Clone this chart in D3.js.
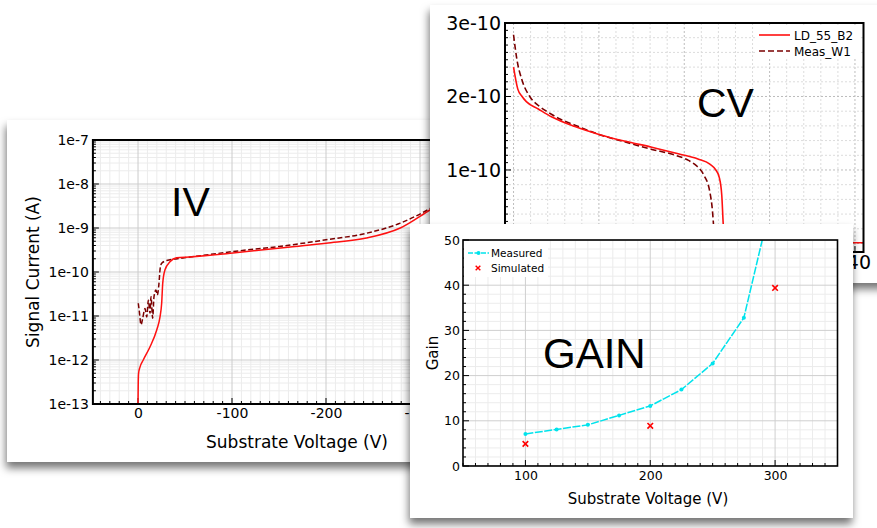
<!DOCTYPE html>
<html>
<head>
<meta charset="utf-8">
<script src="https://cdn.jsdelivr.net/npm/d3@7"></script>
<style>
  body { margin: 0; background: #fff; }
  svg { display: block; }
  text { font-family: "DejaVu Sans", sans-serif; fill: #000; }
  .big { font-family: "Liberation Sans", Arial, sans-serif; }
</style>
</head>
<body>
<svg id="chart" width="877" height="528"></svg>
<script>
// ---------- IV: signal current vs substrate voltage ----------
const ivSimVoltage = [0, -0.2, -0.6, -2.1, -5.6, -12.8, -19.9, -23.4, -25.2, -26.3, -28.7, -34, -41, -55, -101, -162, -200, -243, -279, -311, -330, -350];
const ivSimCurrent = [1e-13, 2.5e-13, 5.0e-13, 6.9e-13, 1.0e-12, 2.0e-12, 4.8e-12, 9.5e-12, 2.0e-11, 5.6e-11, 1.12e-10, 1.7e-10, 2.1e-10, 2.2e-10, 2.7e-10, 3.7e-10, 4.5e-10, 5.9e-10, 1.0e-9, 2.6e-9, 4.5e-9, 8e-9];
const ivMeasVoltage = [-0.3, -1.4, -3.2, -5.0, -7.4, -9.3, -11.0, -12.8, -13.8, -15.6, -17.0, -19.1, -20.5, -22.3, -23.4, -25.2, -30.5, -44.7, -70, -100, -150, -200, -243, -279, -311, -330, -350];
const ivMeasCurrent = [1.95e-11, 1.26e-11, 6.3e-12, 8.9e-12, 1.48e-11, 9.5e-12, 2.29e-11, 1.15e-11, 2.75e-11, 8.9e-12, 2.75e-11, 3.9e-11, 3.0e-11, 5.5e-11, 1.12e-10, 1.58e-10, 1.82e-10, 2.04e-10, 2.4e-10, 2.9e-10, 3.8e-10, 5.4e-10, 7.6e-10, 1.29e-9, 2.8e-9, 5e-9, 9e-9];
const ivYTicks = [1e-7, 1e-8, 1e-9, 1e-10, 1e-11, 1e-12, 1e-13];
const ivYTickLabels = ["1e-7", "1e-8", "1e-9", "1e-10", "1e-11", "1e-12", "1e-13"];
const ivXTicks = [0, -100, -200, -300];

// ---------- CV: capacitance vs voltage ----------
const cvSimVoltage = [0, -0.5, -1.0, -1.5, -2.9, -4.5, -7.2, -10.1, -13.1, -16.2, -19.3, -21.6, -23.0, -23.7, -24.1, -24.4, -24.55, -24.7, -25.5, -41];
const cvSimCap = [2.40e-10, 2.10e-10, 2.00e-10, 1.93e-10, 1.83e-10, 1.72e-10, 1.59e-10, 1.48e-10, 1.39e-10, 1.31e-10, 1.22e-10, 1.15e-10, 1.08e-10, 1.00e-10, 0.90e-10, 0.65e-10, 0.30e-10, 0.03e-10, 0.01e-10, 0.01e-10];
const cvMeasVoltage = [0, -0.4, -1.0, -1.9, -3.0, -4.0, -5.5, -7.2, -10.1, -13.1, -16.2, -18.7, -20.5, -21.5, -22.3, -23.0, -23.3, -23.45, -23.6];
const cvMeasCap = [2.84e-10, 2.50e-10, 2.22e-10, 2.00e-10, 1.87e-10, 1.79e-10, 1.69e-10, 1.61e-10, 1.48e-10, 1.38e-10, 1.28e-10, 1.21e-10, 1.13e-10, 1.05e-10, 0.93e-10, 0.70e-10, 0.45e-10, 0.22e-10, 0.0];
const cvYTicks = [3e-10, 2e-10, 1e-10];
const cvYTickLabels = ["3e-10", "2e-10", "1e-10"];
const cvXTicks = [-40];
const cvSeriesNames = ["LD_55_B2", "Meas_W1"];

// ---------- GAIN vs substrate voltage ----------
const gainMeasVoltage = [100, 125, 150, 175, 200, 225, 250, 275, 300];
const gainMeasured = [7.1, 8.1, 9.1, 11.2, 13.3, 16.9, 22.7, 32.8, 62];
const gainSimVoltage = [100, 200, 300];
const gainSimulated = [4.9, 8.9, 39.4];
const gainYTicks = [0, 10, 20, 30, 40, 50];
const gainXTicks = [100, 200, 300];
const gainSeriesNames = ["Measured", "Simulated"];

const RED = "#ff1010", DARKRED = "#7a0000", CYAN = "#00e3ec";

const svg = d3.select("#chart");
const defs = svg.append("defs");
const shadow = defs.append("filter").attr("id", "cardShadow")
  .attr("x", "-10%").attr("y", "-10%").attr("width", "125%").attr("height", "130%");
shadow.append("feDropShadow").attr("dx", -1).attr("dy", 6).attr("stdDeviation", 4)
  .attr("flood-color", "#000").attr("flood-opacity", 0.55);

function clip(id, x0, y0, x1, y1) {
  defs.append("clipPath").attr("id", id).append("rect")
    .attr("x", x0).attr("y", y0).attr("width", x1 - x0).attr("height", y1 - y0);
  return `url(#${id})`;
}
function styleAxis(g, size) {
  g.attr("font-family", "DejaVu Sans, sans-serif").attr("font-size", size);
  g.select(".domain").remove();
  g.selectAll("text").attr("fill", "#000");
}
function hLine(g, y, x0, x1, stroke, w, dash) {
  g.append("line").attr("x1", x0).attr("x2", x1).attr("y1", y).attr("y2", y)
    .attr("stroke", stroke).attr("stroke-width", w).attr("stroke-dasharray", dash || null);
}
function vLine(g, x, y0, y1, stroke, w, dash) {
  g.append("line").attr("x1", x).attr("x2", x).attr("y1", y0).attr("y2", y1)
    .attr("stroke", stroke).attr("stroke-width", w).attr("stroke-dasharray", dash || null);
}

// ================= IV card =================
{
  const g = svg.append("g");
  g.append("rect").attr("x", 7).attr("y", 120).attr("width", 470).attr("height", 342)
    .attr("fill", "#fff").attr("filter", "url(#cardShadow)");
  const X0 = 92.9, X1 = 467, Y0 = 140, Y1 = 404;
  const x = d3.scaleLinear().domain([48, -350]).range([X0, X1]);
  const y = d3.scaleLog().domain([1e-13, 1e-7]).range([Y1, Y0]);
  const grid = g.append("g").attr("clip-path", clip("ivClip", X0, Y0, X1, Y1));
  // minor grid
  for (let v = 40; v >= -350; v -= 10) if (v % 100 !== 0) vLine(grid, x(v), Y0, Y1, "#ececec", 1);
  for (let e = -13; e < -7; e++) for (let k = 2; k <= 9; k++) hLine(grid, y(k * Math.pow(10, e)), X0, X1, "#ececec", 1);
  // major grid
  [0, -100, -200, -300].forEach(v => vLine(grid, x(v), Y0, Y1, "#cccccc", 1));
  ivYTicks.forEach(t => hLine(grid, y(t), X0, X1, "#cccccc", 1));
  // tick marks inside the frame
  for (let v = 40; v >= -350; v -= 10) vLine(g, x(v), Y1, Y1 - (v % 100 === 0 ? 6 : 3), "#000", 1);
  for (let e = -13; e < -7; e++) for (let k = 1; k <= 9; k++) hLine(g, y(k * Math.pow(10, e)), X0, X0 + (k === 1 ? 6 : 3), "#000", 1);

  const line = d3.line().x(d => x(d[0])).y(d => y(d[1])).curve(d3.curveMonotoneX);
  const lines = g.append("g").attr("clip-path", "url(#ivClip)");
  lines.append("path").datum(d3.zip(ivMeasVoltage, ivMeasCurrent)).attr("d", line)
    .attr("fill", "none").attr("stroke", DARKRED).attr("stroke-width", 1.5).attr("stroke-dasharray", "5,2.5");
  lines.append("path").datum(d3.zip(ivSimVoltage, ivSimCurrent)).attr("d", line)
    .attr("fill", "none").attr("stroke", RED).attr("stroke-width", 1.5);

  // frame
  hLine(g, Y0, X0, X1, "#000", 2); hLine(g, Y1, X0, X1, "#000", 2); vLine(g, X0, Y0 - 1, Y1 + 1, "#000", 2);

  g.append("g").attr("transform", `translate(0,${Y1})`)
    .call(d3.axisBottom(x).tickValues(ivXTicks).tickSize(0).tickPadding(4).tickFormat(d => d))
    .call(a => styleAxis(a, 14));
  g.append("g").attr("transform", `translate(${X0},0)`)
    .call(d3.axisLeft(y).tickValues(ivYTicks).tickSize(0).tickPadding(4).tickFormat((d, i) => ivYTickLabels[i]))
    .call(a => styleAxis(a, 14));

  g.append("text").attr("transform", "rotate(-90)").attr("x", -272).attr("y", 39)
    .attr("text-anchor", "middle").attr("font-size", 17).text("Signal Current (A)");
  g.append("text").attr("x", 297).attr("y", 448).attr("text-anchor", "middle")
    .attr("font-size", 17).text("Substrate Voltage (V)");
  g.append("text").attr("class", "big").attr("x", 171).attr("y", 216).attr("font-size", 41).text("IV");
}

// ================= CV card =================
{
  const g = svg.append("g");
  g.append("rect").attr("x", 430).attr("y", 5).attr("width", 470).attr("height", 278)
    .attr("fill", "#fff").attr("filter", "url(#cardShadow)");
  const X0 = 505, X1 = 863.5, Y0 = 23, Y1 = 252;
  const x = d3.scaleLinear().domain([1, -41]).range([X0, X1]);
  const y = d3.scaleLinear().domain([-0.116e-10, 3e-10]).range([Y1, Y0]);
  const grid = g.append("g").attr("clip-path", clip("cvClip", X0, Y0, X1, Y1));
  for (let v = 0; v >= -41; v -= 2) vLine(grid, x(v), Y0, Y1, v % 10 === 0 ? "#bdbdbd" : "#dcdcdc", 1, "2,2");
  for (let k = 0; k <= 30; k += 2) hLine(grid, y(k * 1e-11), X0, X1, k % 10 === 0 ? "#bdbdbd" : "#dcdcdc", 1, "2,2");
  for (let k = 0; k <= 30; k++) hLine(g, y(k * 1e-11), X0, X0 + (k % 10 === 0 ? 6 : 3), "#000", 1);
  for (let v = 0; v >= -41; v -= 2) vLine(g, x(v), Y1, Y1 - (v % 10 === 0 ? 6 : 3), "#000", 1);

  const line = d3.line().x(d => x(d[0])).y(d => y(d[1])).curve(d3.curveMonotoneX);
  const lines = g.append("g").attr("clip-path", "url(#cvClip)");
  lines.append("path").datum(d3.zip(cvMeasVoltage, cvMeasCap)).attr("d", line)
    .attr("fill", "none").attr("stroke", DARKRED).attr("stroke-width", 1.6).attr("stroke-dasharray", "6,3");
  lines.append("path").datum(d3.zip(cvSimVoltage, cvSimCap)).attr("d", line)
    .attr("fill", "none").attr("stroke", RED).attr("stroke-width", 1.6);

  g.append("rect").attr("x", X0).attr("y", Y0).attr("width", X1 - X0).attr("height", Y1 - Y0)
    .attr("fill", "none").attr("stroke", "#000").attr("stroke-width", 2);

  g.append("g").attr("transform", `translate(0,${Y1})`)
    .call(d3.axisBottom(x).tickValues(cvXTicks).tickSize(0).tickPadding(3).tickFormat(d => d))
    .call(a => styleAxis(a, 19));
  g.append("g").attr("transform", `translate(${X0},0)`)
    .call(d3.axisLeft(y).tickValues(cvYTicks).tickSize(0).tickPadding(4).tickFormat((d, i) => cvYTickLabels[i]))
    .call(a => styleAxis(a, 19));

  // legend
  const lg = g.append("g");
  lg.append("rect").attr("x", 756).attr("y", 26).attr("width", 104).attr("height", 32).attr("fill", "#fff");
  const styles = [{ c: RED, d: null }, { c: DARKRED, d: "6,3" }];
  cvSeriesNames.forEach((name, i) => {
    const yy = 35 + i * 16;
    lg.append("line").attr("x1", 759).attr("x2", 790).attr("y1", yy).attr("y2", yy)
      .attr("stroke", styles[i].c).attr("stroke-width", 1.6).attr("stroke-dasharray", styles[i].d);
    lg.append("text").attr("x", 794).attr("y", yy + 4.5).attr("font-size", 12).text(name);
  });
  g.append("text").attr("class", "big").attr("x", 697).attr("y", 117).attr("font-size", 41).text("CV");
}

// ================= GAIN card =================
{
  const g = svg.append("g");
  g.append("rect").attr("x", 410).attr("y", 224).attr("width", 443).attr("height", 294)
    .attr("fill", "#fff").attr("filter", "url(#cardShadow)");
  const X0 = 463, X1 = 837.5, Y0 = 240, Y1 = 466;
  const x = d3.scaleLinear().domain([50, 350]).range([X0, X1]);
  const y = d3.scaleLinear().domain([0, 50]).range([Y1, Y0]);
  const grid = g.append("g").attr("clip-path", clip("gainClip", X0, Y0, X1, Y1));
  for (let v = 50; v <= 350; v += 10) if (v % 100 !== 0) vLine(grid, x(v), Y0, Y1, "#ececec", 1);
  for (let k = 0; k <= 50; k += 2) if (k % 10 !== 0) hLine(grid, y(k), X0, X1, "#ececec", 1);
  gainXTicks.forEach(v => vLine(grid, x(v), Y0, Y1, "#cfcfcf", 1));
  gainYTicks.forEach(k => hLine(grid, y(k), X0, X1, "#cfcfcf", 1));
  for (let v = 50; v <= 350; v += 10) vLine(g, x(v), Y1, Y1 - (v % 100 === 0 ? 6 : 3), "#000", 1);
  for (let k = 0; k <= 50; k += 2) hLine(g, y(k), X0, X0 + (k % 10 === 0 ? 6 : 3), "#000", 1);

  const plot = g.append("g").attr("clip-path", "url(#gainClip)");
  const meas = d3.zip(gainMeasVoltage, gainMeasured);
  plot.append("path").datum(meas)
    .attr("d", d3.line().x(d => x(d[0])).y(d => y(d[1])))
    .attr("fill", "none").attr("stroke", CYAN).attr("stroke-width", 1.5).attr("stroke-dasharray", "8,1.5");
  plot.selectAll("circle.m").data(meas).join("circle").attr("class", "m")
    .attr("cx", d => x(d[0])).attr("cy", d => y(d[1])).attr("r", 2).attr("fill", CYAN);
  const cross = d3.symbol().type(d3.symbolX).size(22);
  plot.selectAll("path.s").data(d3.zip(gainSimVoltage, gainSimulated)).join("path").attr("class", "s")
    .attr("transform", d => `translate(${x(d[0])},${y(d[1])})`).attr("d", cross)
    .attr("stroke", "#ff0000").attr("stroke-width", 1.6).attr("fill", "none");

  // legend
  g.append("rect").attr("x", 464).attr("y", 241).attr("width", 84).attr("height", 36).attr("fill", "#fff");
  g.append("line").attr("x1", 468).attr("x2", 489).attr("y1", 253).attr("y2", 253)
    .attr("stroke", CYAN).attr("stroke-width", 1.5).attr("stroke-dasharray", "5,1.5");
  g.append("circle").attr("cx", 478.5).attr("cy", 253).attr("r", 2).attr("fill", CYAN);
  g.append("path").attr("transform", "translate(478,268)").attr("d", d3.symbol().type(d3.symbolX).size(16))
    .attr("stroke", "#ff0000").attr("stroke-width", 1.4);
  gainSeriesNames.forEach((name, i) => {
    g.append("text").attr("x", 491).attr("y", 257 + i * 15).attr("font-size", 10.5).text(name);
  });

  g.append("rect").attr("x", X0).attr("y", Y0).attr("width", X1 - X0).attr("height", Y1 - Y0)
    .attr("fill", "none").attr("stroke", "#000").attr("stroke-width", 1.6);

  g.append("g").attr("transform", `translate(0,${Y1})`)
    .call(d3.axisBottom(x).tickValues(gainXTicks).tickSize(0).tickPadding(5).tickFormat(d => d))
    .call(a => styleAxis(a, 12.5));
  g.append("g").attr("transform", `translate(${X0},0)`)
    .call(d3.axisLeft(y).tickValues(gainYTicks).tickSize(0).tickPadding(3).tickFormat(d => d))
    .call(a => styleAxis(a, 12.5));

  g.append("text").attr("transform", "rotate(-90)").attr("x", -353).attr("y", 438)
    .attr("text-anchor", "middle").attr("font-size", 15).text("Gain");
  g.append("text").attr("x", 648).attr("y", 504).attr("text-anchor", "middle")
    .attr("font-size", 15).text("Substrate Voltage (V)");
  g.append("text").attr("class", "big").attr("x", 543).attr("y", 368).attr("font-size", 42).text("GAIN");
}
</script>
</body>
</html>
